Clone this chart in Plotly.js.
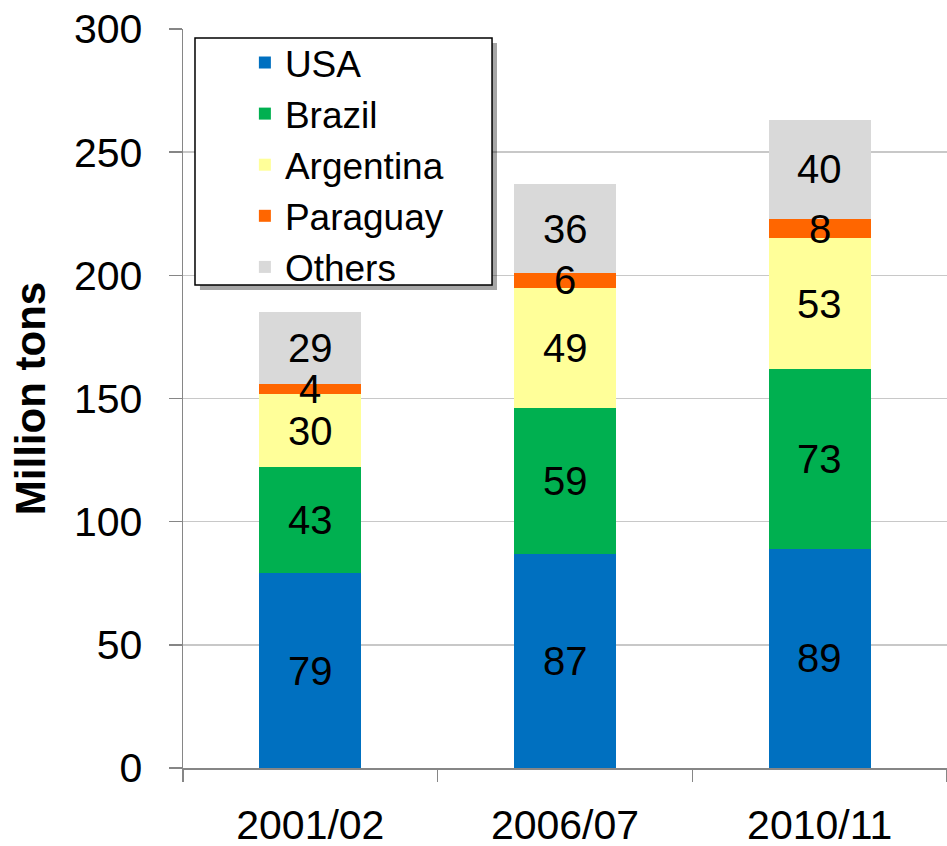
<!DOCTYPE html>
<html>
<head>
<meta charset="utf-8">
<script src="https://cdn.plot.ly/plotly-3.0.1.min.js"></script>
<style>html,body{margin:0;padding:0;background:#fff;}#chart{width:947px;height:846px;}</style>
</head>
<body>
<div id="chart"></div>
<script>
const categories = ["2001/02", "2006/07", "2010/11"];
const seriesNames = ["USA", "Brazil", "Argentina", "Paraguay", "Others"];
const usa = [79, 87, 89];
const brazil = [43, 59, 73];
const argentina = [30, 49, 53];
const paraguay = [4, 6, 8];
const others = [29, 36, 40];
const yTicks = [0, 50, 100, 150, 200, 250, 300];

const seriesValues = [usa, brazil, argentina, paraguay, others];
const colors = ["#0070C0", "#00B050", "#FFFF99", "#FF6600", "#D9D9D9"];

const traces = seriesValues.map((vals, i) => ({
  type: "bar",
  name: seriesNames[i],
  x: categories,
  y: vals,
  marker: {color: colors[i], line: {width: 0}},
  legendgroup: "g" + i,
  hoverinfo: "skip"
}));

// value labels centered in each stacked segment
const annotations = [];
categories.forEach((c, j) => {
  let base = 0;
  seriesValues.forEach((vals) => {
    annotations.push({
      x: c, y: base + vals[j] / 2, xref: "x", yref: "y",
      text: String(vals[j]), showarrow: false,
      font: {family: "Liberation Sans, Arial, sans-serif", size: 40, color: "#000"}
    });
    base += vals[j];
  });
});

const layout = {
  width: 947, height: 846,
  margin: {l: 183, r: 0, t: 29, b: 78},
  paper_bgcolor: "#fff", plot_bgcolor: "#fff",
  barmode: "stack",
  bargap: 0.6,
  font: {family: "Liberation Sans, Arial, sans-serif", size: 41, color: "#000"},
  showlegend: true,
  legend: {
    x: 0.081, y: 0.996, xanchor: "left", yanchor: "top",
    bgcolor: "rgba(0,0,0,0)", borderwidth: 0,
    traceorder: "grouped", tracegroupgap: 0,
    font: {family: "Liberation Sans, Arial, sans-serif", size: 37, color: "#000"}
  },
  xaxis: {
    type: "category",
    range: [-0.5, 2.5],
    showline: true, linecolor: "#868686", linewidth: 1.5,
    ticks: "outside", tickson: "boundaries", ticklen: 12, tickcolor: "#868686", tickwidth: 1.5,
    ticklabelstandoff: 20,
    showgrid: false, zeroline: false,
    tickfont: {size: 41}
  },
  yaxis: {
    range: [0, 300],
    tickvals: yTicks,
    ticktext: yTicks.map(String),
    showline: true, linecolor: "#868686", linewidth: 1.5,
    ticks: "outside", ticklen: 13, tickcolor: "#868686", tickwidth: 1.5,
    ticklabelstandoff: 18,
    showgrid: true, gridcolor: "#C8C8C8", gridwidth: 1.5,
    zeroline: false,
    tickfont: {size: 41},
    title: {text: "<b>Million tons</b>", font: {size: 42}, standoff: 15}
  },
  shapes: [
    {type: "rect", xref: "paper", yref: "paper", layer: "above",
     x0: 0.0222, x1: 0.411, y0: 0.6468, y1: 0.981,
     fillcolor: "rgba(0,0,0,0.35)", line: {width: 0}},
    {type: "rect", xref: "paper", yref: "paper", layer: "above",
     x0: 0.0157, x1: 0.4045, y0: 0.6536, y1: 0.9878,
     fillcolor: "#FFFFFF", line: {color: "#000", width: 1.5}}
  ],
  annotations: annotations
};

Plotly.newPlot("chart", traces, layout, {displayModeBar: false, staticPlot: true});
</script>
</body>
</html>
